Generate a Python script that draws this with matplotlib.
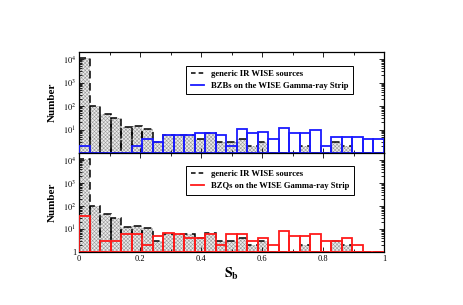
import numpy as np
import matplotlib
matplotlib.use("Agg")
import matplotlib.pyplot as plt
from matplotlib.ticker import MultipleLocator, LogLocator, FuncFormatter, NullFormatter

plt.rcParams.update({
    "font.family": "Liberation Serif", "mathtext.fontset": "stix",
    "hatch.linewidth": 0.4,
})

# ── Data (29 bins of s_b between 0 and 1) ──────────────────────────────────
BIN_EDGES = np.linspace(0, 1, 30)
generic_counts = [11000, 100, 47, 30, 13, 14, 11, 3, 6, 6, 6, 4, 7, 3, 3,
                  4, 2, 3, 1, 1, 1, 2, 0, 0, 3, 2, 0, 0, 0]
bzb_counts = [2, 0, 0, 0, 0, 2, 4, 3, 6, 6, 6, 7, 7, 6, 2,
              11, 7, 8, 4, 12, 7, 7, 10, 2, 5, 5, 5, 4, 4]
bzq_counts = [38, 1, 3, 3, 6, 6, 2, 5, 7, 6, 4, 4, 6, 2, 6,
              6, 3, 4, 2, 8, 5, 5, 6, 3, 3, 4, 2, 0, 0]
GENERIC_LABEL = "generic IR WISE sources"
SAMPLES = [("BZBs on the WISE Gamma-ray Strip", bzb_counts, "#1a1aff"),
           ("BZQs on the WISE Gamma-ray Strip", bzq_counts, "#ff1a1a")]

W, H = 463, 305
fig = plt.figure(figsize=(W / 100, H / 100), dpi=100)
left, right = 79 / W, 384 / W
ax_top = fig.add_axes([left, 1 - 153 / H, right - left, 101 / H])
ax_bot = fig.add_axes([left, 1 - 252.3 / H, right - left, 99.3 / H], sharex=ax_top)

lo = BIN_EDGES[:-1]
wd = np.diff(BIN_EDGES)


def fmt_top(v, pos):
    e = int(round(np.log10(v)))
    return "" if e == 0 else r"$10^{%d}$" % e


def fmt_bot(v, pos):
    e = int(round(np.log10(v)))
    return "1" if e == 0 else r"$10^{%d}$" % e


for ax, (label, counts, col), yfmt, leg_top in [
    (ax_top, SAMPLES[0], fmt_top, 0.862),
    (ax_bot, SAMPLES[1], fmt_bot, 0.868),
]:
    g = np.maximum(np.array(generic_counts, float), 1)
    s = np.maximum(np.array(counts, float), 1)
    # hatched generic fill + dashed outline
    ax.bar(lo, g - 1, bottom=1, width=wd, align="edge", facecolor="#ececec",
           edgecolor="#9a9a9a", hatch="xxxxxxxxx", linewidth=0, zorder=1)
    ax.bar(lo, g - 1, bottom=1, width=wd, align="edge", fill=False,
           edgecolor="black", linestyle=(0, (5, 3)), linewidth=1.1, zorder=2)
    ax.bar(lo, s - 1, bottom=1, width=wd, align="edge", fill=False,
           edgecolor=col, linewidth=1.3, zorder=3)

    ax.set_yscale("log")
    ax.set_ylim(1, 2e4)
    ax.set_xlim(0, 1)
    ax.yaxis.set_major_locator(LogLocator(base=10, numticks=10))
    ax.yaxis.set_minor_locator(LogLocator(base=10, subs=np.arange(2, 10), numticks=10))
    ax.yaxis.set_major_formatter(FuncFormatter(yfmt))
    ax.yaxis.set_minor_formatter(NullFormatter())
    ax.xaxis.set_major_locator(MultipleLocator(0.2))
    ax.xaxis.set_minor_locator(MultipleLocator(0.1))
    ax.tick_params(which="both", direction="in", top=True, right=True,
                   labelsize=6, pad=2, width=0.6)
    ax.tick_params(which="major", length=3.5)
    ax.tick_params(which="minor", length=2)
    for sp in ax.spines.values():
        sp.set_linewidth(0.9)
    ax.set_ylabel("Number", fontsize=8, fontweight="bold", labelpad=4)

    h_gen, = ax.plot([], [], color="black", linestyle=(0, (3, 2)), linewidth=1.1)
    h_smp, = ax.plot([], [], color=col, linewidth=1.3)
    leg = ax.legend([h_gen, h_smp], [GENERIC_LABEL, label], loc="upper left",
                    bbox_to_anchor=(0.352, leg_top),
                    prop={"weight": "bold", "size": 6.2}, frameon=True,
                    fancybox=False, edgecolor="black", framealpha=1,
                    handlelength=1.5, handletextpad=0.9, borderpad=0.5,
                    labelspacing=0.45, borderaxespad=0)
    leg.get_frame().set_linewidth(0.7)

ax_top.tick_params(labelbottom=False)
ax_bot.xaxis.set_major_formatter(FuncFormatter(lambda v, p: "%g" % v))
ax_bot.set_xlabel(r"$\mathbf{S_b}$", fontsize=10, labelpad=2)

fig.savefig("out.png", dpi=100)
